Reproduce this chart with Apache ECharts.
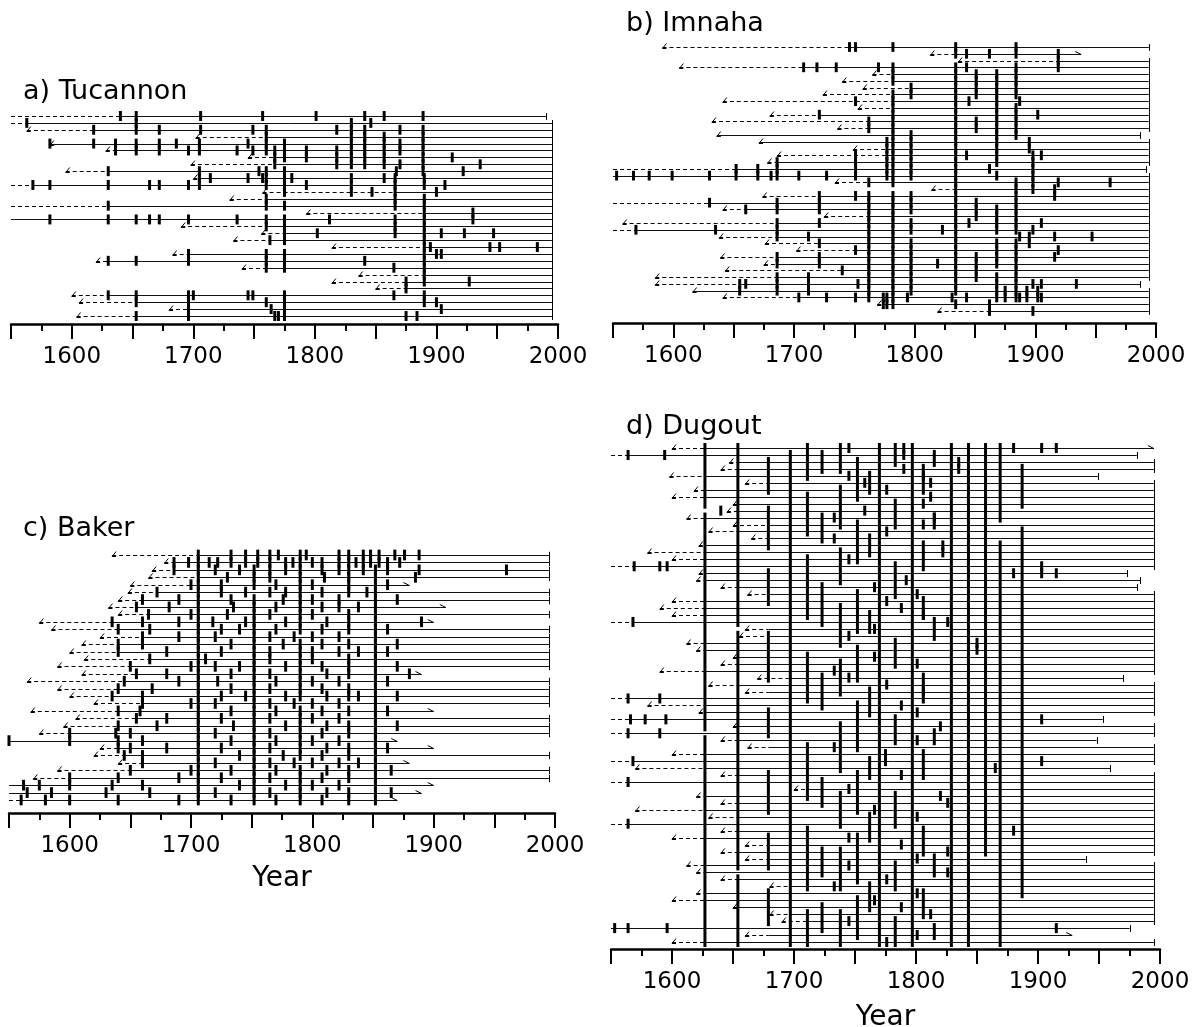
<!DOCTYPE html>
<html><head><meta charset="utf-8">
<script src="https://cdn.jsdelivr.net/npm/echarts/dist/echarts.min.js"></script>
<style>html,body{margin:0;padding:0;background:#fff}#c{width:1197px;height:1027px}</style>
</head><body><div id="c"></div><script>
// ---------- shared ----------
const tickYears = [1600, 1700, 1800, 1900, 2000];

// ---------- a) Tucannon ----------
const tucStart  = [1550,1550,1563,1702,1582,1628,1745,1698,1595,1700,1550,1757,1730,1550,1793,1550,1690,1756,1733,1814,1683,1620,1740,1836,1814,1850,1600,1606,1680,1604];
const tucRecord = [1640,1563,1618,1760,1582,1636,1767,1767,1630,1705,1568,1866,1760,1630,1890,1550,1760,1775,1763,1890,1696,1630,1760,1890,1875,1875,1630,1653,1696,1653];
const tucEnd    = [1990,1995,1995,1995,1995,1995,1995,1995,1995,1995,1995,1995,1995,1995,1995,1995,1995,1995,1995,1995,1995,1995,1995,1995,1995,1995,1995,1995,1995,1995];
const tucEndMark = ['|','|','|','|','|','|','|','|','|','|','|','|','|','|','|','|','|','|','|','|','|','|','|','|','|','|','|','|','|','|'];
const tucScars = [
 [1640,1653,1706,1757,1801,1841,1857,1889],
 [1563,1653,1830,1846],
 [1618,1653,1672,1706,1749,1760,1818,1830,1841,1870,1889],
 [1760,1830,1841,1857,1889],
 [1582,1618,1636,1653,1672,1686,1705,1745,1760,1775,1830,1841,1857,1870,1889],
 [1636,1653,1672,1696,1705,1736,1749,1760,1767,1775,1793,1818,1830,1841,1857,1870,1889],
 [1767,1775,1793,1818,1830,1841,1857,1889,1913],
 [1767,1818,1830,1841,1857,1870,1889,1936],
 [1630,1705,1754,1760,1775,1867,1889,1922],
 [1705,1714,1745,1757,1760,1775,1781,1830,1857,1866,1890],
 [1568,1582,1630,1664,1672,1696,1705,1760,1775,1793,1830,1866,1890,1907],
 [1775,1830,1847,1866,1900],
 [1760,1866,1890],
 [1630,1760,1775,1866,1890],
 [1890,1930],
 [1582,1630,1653,1664,1672,1696,1736,1760,1775,1812,1866,1890,1930],
 [1760,1775,1866,1890],
 [1775,1802,1866,1890,1904,1923,1947],
 [1763,1775,1890],
 [1890,1895,1944,1952,1983],
 [1696,1760,1775,1890,1900,1904],
 [1630,1653,1696,1760,1775,1841,1890],
 [1760,1775,1865,1890],
 [1890],
 [1875,1890,1927],
 [1875],
 [1630,1653,1696,1700,1745,1749,1775,1865,1890],
 [1653,1696,1760,1775,1890,1900],
 [1696,1764,1775,1904],
 [1653,1696,1767,1770,1775,1875,1884]
];

// ---------- b) Imnaha ----------
const impStart  = [1591,1813,1836,1605,1765,1740,1757,1724,1641,1753,1680,1632,1736,1636,1671,1749,1686,1678,1550,1550,1734,1814,1674,1550,1641,1725,1558,1550,1638,1676,1702,1639,1675,1643,1585,1585,1616,1641,1769,1819];
const impRecord = [1746,1834,1919,1708,1782,1782,1797,1782,1782,1782,1721,1762,1762,1636,1671,1777,1777,1686,1652,1550,1762,1834,1721,1630,1660,1762,1686,1569,1686,1721,1751,1686,1686,1740,1686,1655,1616,1704,1774,1862];
const impEnd    = [1994,1938,1994,1994,1994,1994,1994,1994,1994,1994,1994,1994,1994,1987,1994,1994,1994,1994,1992,1994,1994,1994,1994,1994,1994,1994,1994,1994,1994,1994,1994,1994,1994,1994,1994,1987,1994,1994,1994,1994];
const impEndMark = ['|','>','|','|','|','|','|','|','|','|','|','|','|','|','|','|','|','|','|','|','|','|','|','|','|','|','|','|','|','|','|','|','|','|','|','|','|','|','|','|'];
const impScars = [
 [1746,1751,1782,1834,1884],
 [1834,1843,1862,1884,1919],
 [1919],
 [1708,1719,1735,1770,1782,1834,1843,1884,1919],
 [1782,1834,1851,1868,1884],
 [1782,1834,1851,1868,1884],
 [1797,1834,1851,1868,1884],
 [1782,1797,1834,1851,1868,1884],
 [1751,1782,1834,1845,1868,1887],
 [1782,1834,1868,1884],
 [1721,1782,1834,1868,1884,1902],
 [1762,1782,1834,1851,1868,1884],
 [1762,1782,1834,1851,1868,1884],
 [1782,1797,1834,1868,1884],
 [1777,1782,1797,1834,1868,1895],
 [1777,1782,1797,1834,1868,1895],
 [1751,1777,1782,1797,1834,1843,1868,1898,1905],
 [1686,1751,1777,1782,1797,1834,1868,1898],
 [1652,1670,1686,1751,1777,1782,1797,1834,1862,1898],
 [1553,1567,1580,1599,1630,1652,1670,1681,1686,1704,1727,1751,1777,1782,1797,1834,1868,1898],
 [1762,1782,1834,1884,1898,1919,1962],
 [1834,1884,1898,1916],
 [1721,1751,1762,1782,1797,1834,1884,1916],
 [1630,1686,1721,1762,1782,1797,1834,1851,1884],
 [1660,1686,1721,1762,1782,1797,1834,1851,1868,1884],
 [1762,1782,1834,1851,1868,1884],
 [1686,1721,1762,1782,1797,1834,1845,1868,1884,1905],
 [1569,1635,1686,1762,1782,1797,1823,1834,1868,1884,1898],
 [1686,1712,1762,1782,1834,1887,1895,1916,1947],
 [1721,1762,1782,1797,1834,1868,1884,1895],
 [1751,1762,1782,1797,1834,1868,1884,1919],
 [1686,1721,1762,1782,1797,1834,1851,1868,1884,1916],
 [1686,1721,1762,1782,1797,1819,1834,1851,1868,1884],
 [1740,1762,1782,1797,1834,1851,1884],
 [1686,1712,1762,1782,1797,1834,1851,1868,1884],
 [1655,1660,1686,1712,1753,1762,1782,1797,1834,1868,1884,1898,1905,1934],
 [1655,1686,1712,1762,1782,1797,1834,1868,1875,1884,1893,1902],
 [1704,1727,1751,1762,1774,1777,1782,1794,1831,1843,1868,1875,1884,1887,1893,1902,1905],
 [1774,1777,1782,1834,1862],
 [1862,1898]
];

// ---------- c) Baker ----------
const bakStart  = [1635,1678,1668,1665,1650,1648,1640,1632,1640,1575,1585,1625,1610,1600,1612,1590,1610,1565,1590,1600,1620,1568,1605,1595,1575,1550,1625,1620,1640,1590,1570,1550,1550,1550];
const bakRecord = [1706,1686,1686,1706,1700,1672,1660,1655,1665,1635,1640,1660,1640,1640,1666,1650,1655,1645,1640,1635,1660,1640,1655,1640,1600,1550,1640,1645,1660,1650,1600,1550,1550,1560];
const bakEnd    = [1995,1995,1995,1995,1880,1995,1995,1910,1995,1900,1995,1995,1995,1995,1995,1995,1890,1995,1995,1995,1995,1900,1995,1995,1995,1870,1900,1995,1880,1995,1995,1900,1890,1870];
const bakEndMark = ['|','|','|','|','>','|','|','>','|','>','|','|','|','|','|','|','>','|','|','|','|','>','|','|','|','>','>','|','>','|','|','>','>','>'];
const bakScars = [
 [1706,1733,1745,1755,1765,1772,1790,1795,1822,1830,1842,1848,1855,1868,1876,1888],
 [1686,1698,1706,1715,1722,1733,1745,1755,1765,1778,1784,1790,1800,1808,1822,1830,1836,1842,1848,1855,1862,1872],
 [1686,1706,1720,1740,1752,1765,1778,1790,1808,1822,1830,1842,1852,1862,1888,1960],
 [1706,1730,1752,1765,1790,1810,1830,1852,1885],
 [1700,1706,1725,1752,1770,1790,1800,1830,1852,1862],
 [1672,1706,1725,1745,1765,1778,1790,1808,1830,1845,1852],
 [1660,1690,1706,1733,1752,1776,1790,1800,1822,1852,1870],
 [1655,1682,1706,1735,1752,1770,1790,1808,1822,1838,1852],
 [1665,1700,1706,1730,1752,1765,1790,1800,1830,1852],
 [1635,1660,1690,1706,1718,1745,1752,1778,1790,1812,1830,1852,1890],
 [1640,1666,1706,1725,1740,1752,1770,1790,1808,1830,1852,1862],
 [1660,1690,1706,1720,1752,1765,1785,1800,1822,1852],
 [1640,1660,1706,1733,1752,1776,1790,1808,1830,1852,1870],
 [1640,1680,1706,1725,1752,1765,1790,1800,1822,1838,1852,1862],
 [1666,1706,1712,1752,1765,1790,1800,1830,1852],
 [1650,1700,1706,1720,1740,1752,1778,1790,1808,1830,1852,1870],
 [1655,1680,1706,1733,1752,1765,1790,1812,1830,1852,1880],
 [1645,1690,1706,1722,1752,1770,1790,1800,1822,1852,1862],
 [1640,1668,1706,1733,1752,1765,1790,1808,1830,1852],
 [1635,1660,1706,1725,1745,1752,1778,1790,1812,1830,1838,1852,1870],
 [1660,1700,1706,1720,1752,1765,1785,1800,1822,1852],
 [1640,1658,1706,1733,1752,1770,1790,1808,1830,1852,1862],
 [1655,1680,1706,1725,1752,1765,1790,1800,1822,1852],
 [1640,1672,1706,1735,1752,1778,1790,1812,1830,1852,1870],
 [1600,1638,1650,1706,1720,1752,1765,1790,1808,1830,1852],
 [1550,1600,1640,1660,1706,1733,1752,1770,1790,1800,1822,1852],
 [1640,1650,1680,1706,1725,1752,1765,1790,1812,1830,1852,1862],
 [1645,1660,1706,1740,1752,1776,1790,1808,1830,1852],
 [1660,1706,1720,1752,1765,1785,1800,1822,1838,1852],
 [1650,1700,1706,1733,1752,1770,1790,1812,1830,1852,1865],
 [1600,1640,1690,1706,1725,1752,1765,1790,1808,1830,1852],
 [1562,1575,1600,1635,1660,1706,1740,1752,1778,1790,1800,1822,1852],
 [1565,1585,1630,1666,1706,1720,1752,1765,1790,1812,1830,1852,1865],
 [1560,1580,1600,1640,1690,1706,1733,1752,1770,1790,1808,1830,1852]
];

// ---------- d) Dugout ----------
const dugStart  = [1600,1550,1647,1640,1598,1660,1618,1600,1650,1645,1612,1650,1630,1665,1622,1580,1600,1550,1622,1620,1640,1662,1600,1590,1600,1550,1660,1655,1612,1620,1650,1640,1590,1670,1630,1660,1550,1580,1622,1550,1650,1550,1640,1662,1600,1550,1570,1640,1550,1700,1620,1640,1570,1630,1550,1640,1600,1660,1640,1660,1612,1620,1640,1680,1620,1600,1650,1680,1690,1550,1660,1600];
const dugRecord = [1627,1564,1654,1654,1627,1679,1627,1627,1654,1654,1627,1679,1654,1679,1627,1627,1627,1569,1627,1627,1654,1679,1627,1627,1627,1568,1679,1679,1627,1627,1654,1654,1627,1697,1654,1679,1564,1627,1627,1566,1654,1564,1654,1679,1627,1568,1627,1654,1564,1711,1627,1654,1627,1654,1564,1654,1627,1679,1654,1679,1627,1627,1654,1697,1627,1627,1654,1697,1711,1553,1679,1627];
const dugEnd    = [1995,1981,1995,1995,1949,1995,1995,1995,1995,1995,1995,1995,1995,1995,1995,1995,1995,1995,1973,1984,1981,1995,1995,1995,1995,1995,1995,1995,1995,1995,1995,1995,1995,1970,1995,1995,1995,1995,1995,1953,1995,1995,1948,1995,1995,1995,1959,1995,1995,1995,1995,1995,1995,1995,1995,1995,1995,1995,1995,1939,1995,1995,1995,1995,1995,1995,1995,1995,1995,1975,1928,1995];
const dugEndMark = ['>','|','|','|','|','|','|','|','|','|','|','|','|','|','|','|','|','|','|','|','|','|','|','|','|','|','|','|','|','|','|','|','|','|','|','|','|','|','|','|','|','|','|','|','|','|','|','|','|','|','|','|','|','|','|','|','|','|','|','|','|','|','|','|','|','|','|','|','|','|','>','|'];
const dugScars = [
 [1745,1790,1880,1903,1915],[1564,1594,1790],[1835],[1790,1835],[1745,1806],[1758,1812],[1776],[1812],[1806],[1640,1758],
 [1733,1815],[1806],[1776],[1733],[1822],[1822],[1745],[1569,1590,1596,1903],[1880,1903,1915],[1792],
 [1766],[1801],[1776],[1788],[1806],[1568,1826],[1766],[1745],[1850],[1850],
 [1766],[1801],[1733],[1745],[1776],[1806],[1564,1590],[1788],[1801],[1566,1578,1595,1903],
 [1820],[1564,1590],[1801],[1733],[1775],[1568,1775,1903],[1865],[1788],[1564],[1745],
 [1820],[1826],[1766],[1801],[1564],[1880],[1745],[1788],[1826],[1801],
 [1745],[1826],[1776],[1733],[1801],[1766],[1788],[1812],[1745],[1553,1564,1596,1915],[1801],[1776]
];
const dugSpans = [
 [1627,0,8],[1627,10,40],[1627,42,71],
 [1654,0,25],[1654,27,60],[1654,62,71],
 [1697,1,71],[1770,0,71],[1797,0,71],[1829,0,71],[1843,0,71],[1857,0,58],
 [1887,3,8],[1887,12,64],[1869,0,10],[1869,14,71],
 [1679,2,6],[1679,9,14],[1679,18,22],[1679,27,33],[1679,38,41],[1679,47,52],[1679,56,60],[1679,64,68],
 [1711,0,4],[1711,7,12],[1711,16,24],[1711,30,36],[1711,43,50],[1711,55,63],[1711,67,71],
 [1723,1,3],[1723,10,13],[1723,20,25],[1723,33,37],[1723,48,51],[1723,58,61],[1723,66,69],
 [1738,0,3],[1738,6,11],[1738,15,19],[1738,23,28],[1738,31,35],[1738,40,46],[1738,50,54],[1738,58,63],[1738,67,71],
 [1752,2,7],[1752,11,16],[1752,21,26],[1752,29,33],[1752,37,43],[1752,47,52],[1752,56,62],[1752,65,70],
 [1762,4,6],[1762,13,15],[1762,24,26],[1762,35,38],[1762,45,47],[1762,53,56],[1762,63,66],
 [1783,0,2],[1783,8,11],[1783,17,21],[1783,28,31],[1783,39,42],[1783,50,54],[1783,60,63],[1783,68,71],
 [1806,3,6],[1806,14,17],[1806,22,24],[1806,33,36],[1806,44,47],[1806,55,58],[1806,64,67],
 [1815,1,2],[1815,10,11],[1815,25,27],[1815,41,42],[1815,59,61],[1815,69,70]
];

// ---------- layout ----------
const FONT = '"DejaVu Sans", "Liberation Sans", Arial, sans-serif';
const panels = [
 {title:'a) Tucannon', tx:18, ty:73, left:11, right:558, firstY:116, lastY:316, axisY:324, gap:0,
  start:tucStart, rec:tucRecord, end:tucEnd, mark:tucEndMark, scars:tucScars, spans:[]},
 {title:'b) Imnaha', tx:621, ty:5, left:613, right:1156, firstY:47, lastY:311, axisY:323, gap:0,
  start:impStart, rec:impRecord, end:impEnd, mark:impEndMark, scars:impScars, spans:[]},
 {title:'c) Baker', tx:18, ty:510, left:9, right:555, firstY:555, lastY:800, axisY:813, gap:52,
  start:bakStart, rec:bakRecord, end:bakEnd, mark:bakEndMark, scars:bakScars, spans:[]},
 {title:'d) Dugout', tx:621, ty:408, left:611, right:1160, firstY:448, lastY:942, axisY:949, gap:55,
  start:dugStart, rec:dugRecord, end:dugEnd, mark:dugEndMark, scars:dugScars, spans:dugSpans}
];

function treeItem(params, api) {
  const row = api.value(0), s = api.value(1), r = api.value(2), e = api.value(3), open = api.value(4);
  const a = api.coord([s, row]), b = api.coord([r, row]), c = api.coord([e, row]);
  const h = api.size([0, 1])[1];
  const y = Math.round(a[1]) + 0.5;
  const ch = [];
  if (b[0] > a[0] + 0.5) ch.push({type:'line', shape:{x1:a[0], y1:y, x2:b[0], y2:y}, style:{stroke:'#000', lineWidth:1, lineDash:[4,3]}});
  ch.push({type:'line', shape:{x1:b[0], y1:y, x2:c[0], y2:y}, style:{stroke:'#111', lineWidth:1}});
  if (s > 1550) ch.push({type:'polyline', shape:{points:[[a[0]+4, y-4],[a[0], y+1],[a[0]+4, y+1]]}, style:{stroke:'#000', lineWidth:1, fill:null}});
  if (open) ch.push({type:'line', shape:{x1:c[0]-6, y1:y-3, x2:c[0], y2:y}, style:{stroke:'#000', lineWidth:1}});
  else ch.push({type:'line', shape:{x1:Math.round(c[0])+0.5, y1:y-h/2, x2:Math.round(c[0])+0.5, y2:y+h/2}, style:{stroke:'#000', lineWidth:1}});
  return {type:'group', children:ch};
}
function scarItem(params, api) {
  const yr = api.value(0), r0 = api.value(1), r1 = api.value(2);
  const p = api.coord([yr, r0]), q = api.coord([yr, r1]);
  const h = api.size([0, 1])[1];
  const ext = h * 0.72;
  return {type:'rect', shape:{x:p[0]-1.5, y:p[1]-ext, width:3, height:q[1]-p[1]+2*ext}, style:{fill:'#000'}};
}

const option = {animation:false, backgroundColor:'#fff', title:[], grid:[], xAxis:[], yAxis:[], series:[]};
panels.forEach(function (p, i) {
  const n = p.start.length;
  const s = (p.lastY - p.firstY) / (n - 1);
  const top = p.firstY - s;
  option.title.push({text:p.title, left:p.tx, top:p.ty, textStyle:{fontFamily:FONT, fontSize:27, fontWeight:'normal', color:'#000'}});
  option.grid.push({left:p.left, top:top, width:p.right - p.left, height:p.axisY - top, containLabel:false, outerBoundsMode:'none'});
  option.xAxis.push({gridIndex:i, type:'value', min:1550, max:2000, interval:50, position:'bottom',
    axisLine:{show:true, onZero:false, lineStyle:{color:'#000', width:2.5}},
    axisTick:{show:true, length:15, lineStyle:{color:'#000', width:2}},
    minorTick:{show:true, splitNumber:2, length:7, lineStyle:{color:'#000', width:2}},
    splitLine:{show:false}, minorSplitLine:{show:false},
    axisLabel:{formatter:function (v) { return tickYears.indexOf(v) >= 0 ? String(v) : ''; }, fontFamily:FONT, fontSize:23, color:'#000', margin:22, showMinLabel:true, showMaxLabel:true},
    name:p.gap ? 'Year' : '', nameLocation:'middle', nameGap:p.gap,
    nameTextStyle:{fontFamily:FONT, fontSize:28, color:'#000'}});
  option.yAxis.push({gridIndex:i, type:'value', inverse:true, min:-1, max:(n - 1) + (p.axisY - p.lastY) / s, show:false});
  const trees = p.start.map(function (st, k) { return [k, st, p.rec[k], p.end[k], p.mark[k] === '>' ? 1 : 0]; });
  option.series.push({type:'custom', xAxisIndex:i, yAxisIndex:i, renderItem:treeItem, data:trees, encode:{x:[1,2,3], y:0}, z:2, silent:true});
  const sc = [];
  p.scars.forEach(function (list, k) { list.forEach(function (yr) { sc.push([yr, k, k]); }); });
  p.spans.forEach(function (sp) { sc.push(sp); });
  option.series.push({type:'custom', xAxisIndex:i, yAxisIndex:i, renderItem:scarItem, data:sc, encode:{x:0, y:[1,2]}, z:3, silent:true});
});
const chart = echarts.init(document.getElementById('c'), null, {renderer:'canvas'});
chart.setOption(option);
</script></body></html>
